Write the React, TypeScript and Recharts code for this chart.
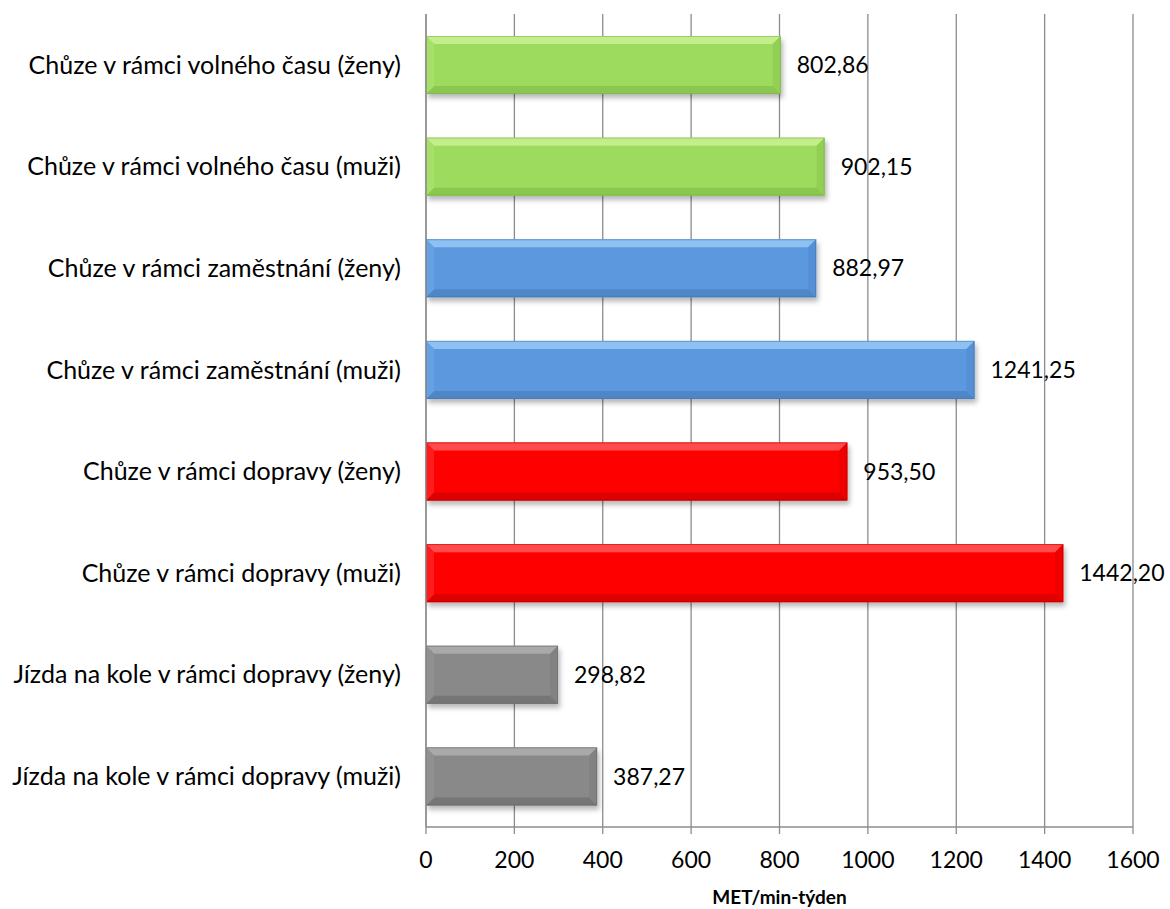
import React from 'react';
import { BarChart, Bar, XAxis, YAxis, CartesianGrid, LabelList, Label } from 'recharts';

const CATEGORIES = [
  'Chůze v rámci volného času (ženy)',
  'Chůze v rámci volného času (muži)',
  'Chůze v rámci zaměstnání (ženy)',
  'Chůze v rámci zaměstnání (muži)',
  'Chůze v rámci dopravy (ženy)',
  'Chůze v rámci dopravy (muži)',
  'Jízda na kole v rámci dopravy (ženy)',
  'Jízda na kole v rámci dopravy (muži)',
];

const VALUES = [802.86, 902.15, 882.97, 1241.25, 953.5, 1442.2, 298.82, 387.27];

const GROUPS = ['volny', 'volny', 'zam', 'zam', 'doprava', 'doprava', 'kolo', 'kolo'];

const TICKS = [0, 200, 400, 600, 800, 1000, 1200, 1400, 1600];

const PALETTE: Record<string, { base: string; top: string; bottom: string; left: string; right: string; edge: string }> = {
  volny: { base: '#9ddb5e', top: '#c2ee8c', bottom: '#8ac74f', left: '#a6e06a', right: '#93cf55', edge: '#7aa945' },
  zam: { base: '#5c98de', top: '#8cc1f2', bottom: '#4f86c8', left: '#66a1e4', right: '#5490d6', edge: '#4472a8' },
  doprava: { base: '#ff0606', top: '#ff4b4b', bottom: '#dd0404', left: '#ff1a1a', right: '#ee0505', edge: '#b00000' },
  kolo: { base: '#898989', top: '#a9a9a9', bottom: '#767676', left: '#909090', right: '#828282', edge: '#666666' },
};

const data = CATEGORIES.map((name, i) => ({ name, value: VALUES[i], group: GROUPS[i] }));

const FONT = 'Lato, "Noto Sans", sans-serif';

const BevelBar = (props: any) => {
  const { x, y, width, height, payload } = props;
  if (width <= 0 || height <= 0) return null;
  const c = PALETTE[payload.group];
  const b = Math.min(8, width / 2, height / 2);
  const x2 = x + width;
  const y2 = y + height;
  return (
    <g filter="url(#barShadow)">
      <rect x={x} y={y} width={width} height={height} fill={c.base} />
      <polygon points={`${x},${y} ${x2},${y} ${x2 - b},${y + b} ${x + b},${y + b}`} fill={c.top} />
      <polygon points={`${x},${y2} ${x2},${y2} ${x2 - b},${y2 - b} ${x + b},${y2 - b}`} fill={c.bottom} />
      <polygon points={`${x},${y} ${x + b},${y + b} ${x + b},${y2 - b} ${x},${y2}`} fill={c.left} />
      <polygon points={`${x2},${y} ${x2 - b},${y + b} ${x2 - b},${y2 - b} ${x2},${y2}`} fill={c.right} />
      <rect x={x + 0.5} y={y + 0.5} width={width - 1} height={height - 1} fill="none" stroke={c.edge} strokeWidth={1} strokeOpacity={0.5} />
    </g>
  );
};

const fmt = (v: any) => Number(v).toFixed(2).replace('.', ',');

export default function App() {
  return (
    <div style={{ position: 'absolute', left: 0, top: 0, width: 1170, height: 909, background: '#fff' }}>
      <BarChart
        width={1170}
        height={909}
        data={data}
        layout="vertical"
        margin={{ top: 14, right: 37, bottom: 0, left: 0 }}
        style={{ fontFamily: FONT }}
      >
        <defs>
          <filter id="barShadow" x="-5%" y="-20%" width="115%" height="160%">
            <feDropShadow dx="2" dy="4" stdDeviation="2.5" floodColor="#000" floodOpacity="0.28" />
          </filter>
        </defs>
        <CartesianGrid horizontal={false} vertical stroke="#8c8c8c" strokeWidth={1.3} />
        <XAxis
          type="number"
          domain={[0, 1600]}
          ticks={TICKS}
          interval={0}
          height={82}
          tickSize={7}
          tickMargin={18}
          axisLine={{ stroke: '#8c8c8c', strokeWidth: 1.3 }}
          tickLine={{ stroke: '#8c8c8c', strokeWidth: 1.3 }}
          tick={{ fill: '#000', fontSize: 23, fontFamily: FONT }}
        >
          <Label
            value="MET/min-týden"
            position="insideBottom"
            offset={5}
            style={{ fontSize: 19, fontWeight: 700, fill: '#000', fontFamily: FONT }}
          />
        </XAxis>
        <YAxis
          type="category"
          dataKey="name"
          width={426}
          tickLine={false}
          tickSize={0}
          tickMargin={25}
          interval={0}
          axisLine={{ stroke: '#8c8c8c', strokeWidth: 1.3 }}
          tick={{ fill: '#000', fontSize: 25, fontFamily: FONT }}
        />
        <Bar dataKey="value" barSize={58} shape={BevelBar} isAnimationActive={false}>
          <LabelList
            dataKey="value"
            position="right"
            offset={16}
            formatter={fmt}
            style={{ fill: '#000', fontSize: 23, fontFamily: FONT }}
          />
        </Bar>
      </BarChart>
    </div>
  );
}
